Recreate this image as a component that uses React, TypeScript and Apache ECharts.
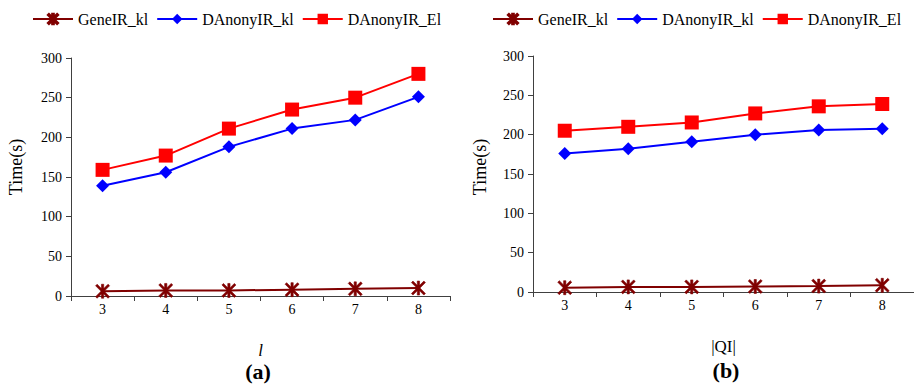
import React, { useEffect, useRef } from "react";
import * as echarts from "echarts";

const categories = ["3", "4", "5", "6", "7", "8"];
const seriesNames = ["GeneIR_kl", "DAnonyIR_kl", "DAnonyIR_El"];
const geneA = [6, 7, 7, 8, 9, 10];
const danonyKlA = [139, 156, 188, 211, 222, 251];
const danonyElA = [159, 177, 211, 235, 250, 280];
const geneB = [5.5, 6.5, 6.5, 7, 7.5, 8.5];
const danonyKlB = [176, 182, 191, 200, 206, 207.5];
const danonyElB = [205, 210, 215.5, 227, 236, 239];
const yTicks = { min: 0, max: 300, interval: 50 };
const yName = "Time(s)";

const FONT = "'Liberation Serif', 'Times New Roman', serif";
const colors = ["#800000", "#0000FF", "#FF0000"];
const starPath =
  "path://M4.2 0L5.8 0L5.8 10L4.2 10Z M0 1.1L1.1 0L10 8.9L8.9 10Z M8.9 0L10 1.1L1.1 10L0 8.9Z";

export default function App() {
  const ref = useRef<HTMLDivElement>(null);
  useEffect(() => {
    if (!ref.current) return;
    const chart = echarts.init(ref.current, null, { renderer: "svg" });
    const axisLineStyle = { color: "#404040", width: 1 };
    const mkX = (gridIndex: number, name: string, italic: boolean) => ({
      type: "category",
      gridIndex,
      data: categories,
      boundaryGap: true,
      name,
      nameLocation: "middle",
      nameGap: 46,
      nameTextStyle: {
        fontFamily: FONT,
        fontSize: 17,
        color: "#000",
        fontStyle: italic ? "italic" : "normal",
      },
      axisLine: { lineStyle: axisLineStyle },
      axisTick: { show: true, length: 5, lineStyle: axisLineStyle, alignWithLabel: false },
      axisLabel: { fontFamily: FONT, fontSize: 14, color: "#000", margin: 6 },
      splitLine: { show: false },
    });
    const mkY = (gridIndex: number) => ({
      type: "value",
      gridIndex,
      min: yTicks.min,
      max: yTicks.max,
      interval: yTicks.interval,
      axisLine: { show: true, lineStyle: axisLineStyle },
      axisTick: { show: true, length: 5, lineStyle: axisLineStyle },
      axisLabel: { fontFamily: FONT, fontSize: 14, color: "#000", margin: 9 },
      splitLine: { show: false },
    });
    const mkSeries = (idx: number, data: number[], k: number) => {
      const symbols = [starPath, "diamond", "rect"];
      const sizes = [14, 13, 14];
      return {
        type: "line",
        name: seriesNames[k],
        xAxisIndex: idx,
        yAxisIndex: idx,
        data,
        symbol: symbols[k],
        symbolSize: sizes[k],
        showSymbol: true,
        lineStyle: { color: colors[k], width: 2 },
        itemStyle: { color: colors[k], borderColor: colors[k], borderWidth: k === 0 ? 0.6 : 0 },
        z: 2 + k,
      };
    };
    const legendCommon = {
      top: 6,
      itemWidth: 40,
      itemHeight: 13,
      itemGap: 8,
      textStyle: { fontFamily: FONT, fontSize: 16, color: "#000" },
      data: seriesNames,
      selectedMode: false,
    };
    const nameText = (x: number, y: number, text: string, font: string, rot = 0) => ({
      type: "text",
      x,
      y,
      rotation: rot,
      style: { text, font, fill: "#000", textAlign: "center", textVerticalAlign: "middle" },
    });
    chart.setOption({
      animation: false,
      backgroundColor: "#fff",
      legend: [
        { ...legendCommon, left: 27 },
        { ...legendCommon, left: 487 },
      ],
      grid: [
        { left: 71, right: 464, top: 58, bottom: 88, containLabel: false },
        { left: 533, right: 0, top: 56, bottom: 92, containLabel: false },
      ],
      xAxis: [mkX(0, "l", true), mkX(1, "|QI|", false)],
      yAxis: [mkY(0), mkY(1)],
      series: [
        mkSeries(0, geneA, 0),
        mkSeries(0, danonyKlA, 1),
        mkSeries(0, danonyElA, 2),
        mkSeries(1, geneB, 0),
        mkSeries(1, danonyKlB, 1),
        mkSeries(1, danonyElB, 2),
      ],
      graphic: [
        nameText(16, 167, yName, `18px ${FONT}`, Math.PI / 2),
        nameText(480, 167, yName, `18px ${FONT}`, Math.PI / 2),
        nameText(258, 371, "(a)", `bold 22px ${FONT}`),
        nameText(726, 370, "(b)", `bold 22px ${FONT}`),
      ],
    });
    return () => chart.dispose();
  }, []);
  return (
    <div
      ref={ref}
      style={{ position: "fixed", left: 0, top: 0, width: 914, height: 384, background: "#fff" }}
    />
  );
}
